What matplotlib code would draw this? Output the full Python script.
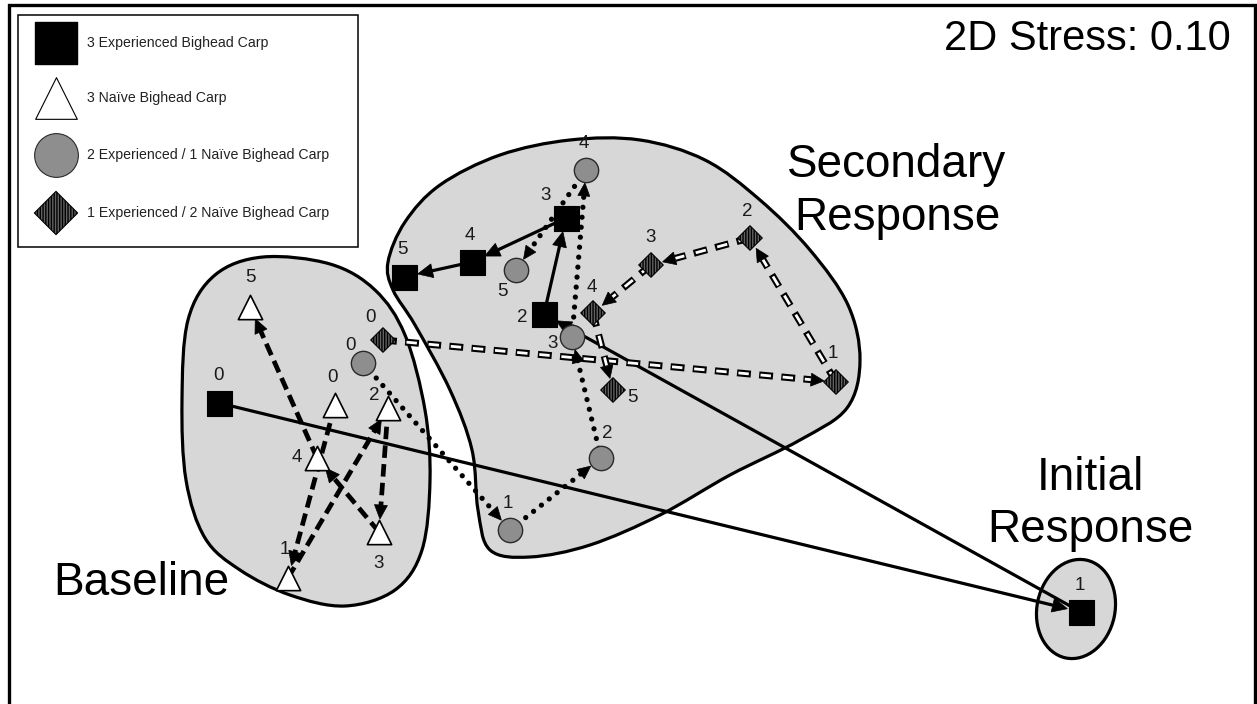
import numpy as np
import matplotlib.pyplot as plt
from matplotlib.path import Path
from matplotlib.patches import PathPatch, Ellipse, Polygon, Rectangle

plt.rcParams['font.family'] = ['Liberation Sans', 'DejaVu Sans']
plt.rcParams['lines.scale_dashes'] = False
plt.rcParams['hatch.linewidth'] = 1.0

# ordination scores (plot units), trial 0-5 for each group
sq_x = [219, 1081, 544, 566, 472, 404]
sq_y = [403, 612, 314, 218, 262, 277]
tri_x = [335, 288, 388, 379, 317, 250]
tri_y = [405, 578, 408, 532, 458, 307]
circ_x = [363, 510, 601, 572, 586, 516]
circ_y = [363, 530, 458, 337, 170, 270]
dia_x = [383, 836, 750, 651, 593, 613]
dia_y = [340, 382, 238, 265, 313, 390]
trials = ['0', '1', '2', '3', '4', '5']

group_names = ['3 Experienced Bighead Carp', '3 Naïve Bighead Carp',
               '2 Experienced / 1 Naïve Bighead Carp',
               '1 Experienced / 2 Naïve Bighead Carp']

# cluster outlines
base_hx = [263, 330, 375, 405, 425, 430, 422, 395, 345, 290, 240, 205, 186, 182, 188, 215]
base_hy = [257, 264, 290, 335, 410, 480, 550, 590, 606, 595, 570, 538, 480, 400, 320, 275]
sec_hx = [388, 405, 440, 500, 570, 640, 705, 760, 810, 848, 860, 847, 800, 730, 660, 590,
          530, 490, 478, 472, 450, 415, 393]
sec_hy = [262, 222, 185, 155, 140, 140, 160, 200, 250, 305, 360, 408, 440, 475, 515, 545,
          557, 550, 510, 450, 390, 325, 290]
init_center = (1076, 609)

stress = 0.10

# label offsets (pixels) for trial numbers
sq_off = [(0, -27), (-1, -27), (-22, 4), (-20, -23), (-2, -27), (-2, -27)]
tri_off = [(-2, -27), (-3, -28), (-14, -13), (0, 31), (-20, 0), (0, -29)]
circ_off = [(-13, -18), (-2, -27), (6, -25), (-19, 6), (-2, -27), (-14, 22)]
dia_off = [(-12, -22), (-3, -28), (-3, -26), (0, -27), (-1, -25), (19, 8)]


def smooth_closed(xs, ys):
    p = np.column_stack([xs, ys]).astype(float)
    n = len(p)
    verts = [p[0]]
    codes = [Path.MOVETO]
    for i in range(n):
        p0, p1, p2, p3 = p[i - 1], p[i], p[(i + 1) % n], p[(i + 2) % n]
        verts += [p1 + (p2 - p0) / 6, p2 - (p3 - p1) / 6, p2]
        codes += [Path.CURVE4] * 3
    return Path(verts, codes)


def arrow_path(ax, xs, ys, r, head, line_kw, under_kw=None):
    for i in range(len(xs) - 1):
        a = np.array([xs[i], ys[i]], float)
        b = np.array([xs[i + 1], ys[i + 1]], float)
        d = (b - a) / np.hypot(*(b - a))
        tip = b - d * r
        base = tip - d * head[0]
        if under_kw is not None:
            ax.plot([a[0], base[0]], [a[1], base[1]], zorder=2, **under_kw)
        ax.plot([a[0], base[0] + d[0] * 2], [a[1], base[1] + d[1] * 2], zorder=2, **line_kw)
        nrm = np.array([-d[1], d[0]])
        tri = [tip, base + nrm * head[1], base - nrm * head[1]]
        ax.add_patch(Polygon(tri, closed=True, fc='black', ec='black', lw=0.5, zorder=3))


fig = plt.figure(figsize=(12.57, 7.04), dpi=100)
ax = fig.add_axes([0, 0, 1, 1])
ax.set_xlim(0, 1257)
ax.set_ylim(704, 0)
ax.axis('off')

# frame
ax.plot([8.5, 8.5, 1254.5, 1254.5], [704, 5, 5, 704], color='black', lw=2.4,
        solid_joinstyle='miter', zorder=1)

hull_kw = dict(fc='#d7d7d7', ec='black', lw=2.3, zorder=1)
ax.add_patch(PathPatch(smooth_closed(base_hx, base_hy), **hull_kw))
ax.add_patch(PathPatch(smooth_closed(sec_hx, sec_hy), **hull_kw))
ax.add_patch(Ellipse(init_center, 78, 100, angle=12, **hull_kw))

# trajectories
arrow_path(ax, sq_x, sq_y, 14, (15, 7),
           dict(color='black', lw=2.3, solid_capstyle='butt'))
arrow_path(ax, tri_x, tri_y, 13, (14, 6.5),
           dict(color='black', lw=3.4, linestyle=(0, (9, 4.5))))
arrow_path(ax, circ_x, circ_y, 13, (13, 6),
           dict(color='black', lw=3.8, linestyle=(0, (0.01, 7.2)), dash_capstyle='round'))
arrow_path(ax, dia_x, dia_y, 12, (13, 6.5),
           dict(color='white', lw=2.0, linestyle=(15, (7.5, 8.5))),
           under_kw=dict(color='black', lw=5.0, linestyle=(0, (10, 6))))

# markers
dia_kw = dict(marker='D', c='#626262', ec='black', lw=0.8, hatch='||||||')
ax.scatter(sq_x, sq_y, s=18 ** 2, marker='s', c='black', ec='black', lw=0.8, zorder=4)
ax.scatter(tri_x, tri_y, s=17.5 ** 2, marker='^', c='white', ec='black', lw=1.2, zorder=4)
ax.scatter(circ_x, circ_y, s=17.5 ** 2, marker='o', c='#8e8e8e', ec='#2a2a2a', lw=1.0, zorder=4)
ax.scatter(dia_x, dia_y, s=12.5 ** 2, zorder=4, **dia_kw)

# trial numbers
for xs, ys, offs in [(sq_x, sq_y, sq_off), (tri_x, tri_y, tri_off),
                     (circ_x, circ_y, circ_off), (dia_x, dia_y, dia_off)]:
    for x, y, lab, (dx, dy) in zip(xs, ys, trials, offs):
        ax.text(x + dx, y + dy, lab, fontsize=13.5, color='#1a1a1a',
                ha='center', va='center', zorder=5)

# cluster names and stress
ax.text(1231, 50, f'2D Stress: {stress:.2f}', fontsize=30, ha='right', va='baseline')
ax.text(897, 230, 'Secondary\nResponse', fontsize=33, ha='center', va='baseline',
        linespacing=1.27, multialignment='center')
ax.text(1090, 542, 'Initial\nResponse', fontsize=33, ha='center', va='baseline',
        linespacing=1.25, multialignment='center')
ax.text(53, 595, 'Baseline', fontsize=33, ha='left', va='baseline')

# legend
ax.add_patch(Rectangle((18, 15), 340, 232, fc='white', ec='black', lw=1.1, zorder=6))
leg_y = [43, 98, 155, 213]
ax.scatter([56], [leg_y[0]], s=30 ** 2, marker='s', c='black', ec='black', zorder=7)
ax.scatter([56], [leg_y[1]], s=30 ** 2, marker='^', c='white', ec='black', lw=0.8, zorder=7)
ax.scatter([56], [leg_y[2]], s=31.5 ** 2, marker='o', c='#8e8e8e', ec='#2a2a2a', lw=0.8, zorder=7)
ax.scatter([56], [leg_y[3]], s=22 ** 2, zorder=7, **dia_kw)
for y, name in zip(leg_y, group_names):
    ax.text(87, y, name, fontsize=10.2, color='#222222', ha='left', va='center', zorder=7)

fig.savefig('out.png', dpi=100)
